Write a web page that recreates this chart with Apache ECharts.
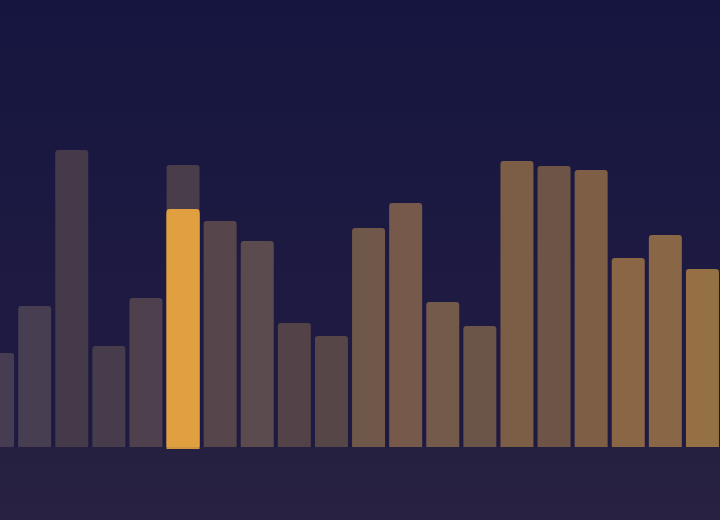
<!DOCTYPE html>
<html>
<head>
<meta charset="utf-8">
<script src="https://cdn.jsdelivr.net/npm/echarts@6/dist/echarts.min.js"></script>
<style>html,body{margin:0;padding:0;background:#151640;overflow:hidden;}#c{width:742px;height:520px;margin-left:-21px;}</style>
</head>
<body>
<div id="c"></div>
<script>
var categories = ['1','2','3','4','5','6','7','8','9','10','11','12','13','14','15','16','17','18','19','20'];
var values = [23.5, 35.25, 74.25, 25.25, 37.25, 59.5, 56.5, 51.5, 31, 27.75, 54.75, 61, 36.25, 30.25, 71.5, 70.25, 69.25, 47.25, 53, 44.5];
var ghostValues = [null, null, null, null, null, 70.5, null, null, null, null, null, null, null, null, null, null, null, null, null, null];
var highlightIndex = 5;
var barColors = ['#463d52','#483e52','#443a4a','#463c4c','#4e414d','#e0a040','#56464c','#5c4b4e','#534349','#574648','#6f5749','#76594a','#735a4a','#6b5448','#7c5e47','#6e5446','#7e5e45','#8a6645','#886646','#957045'];

var chart = echarts.init(document.getElementById('c'));
chart.setOption({
  animation: false,
  backgroundColor: {
    type: 'linear', x: 0, y: 0, x2: 0, y2: 1,
    colorStops: [
      {offset: 0, color: '#151640'},
      {offset: 0.55, color: '#1e1a42'},
      {offset: 0.859, color: '#1f1a42'},
      {offset: 0.86, color: '#262040'},
      {offset: 1, color: '#282141'}
    ]
  },
  grid: {left: 0, right: 0, top: 47, bottom: 73},
  xAxis: {
    type: 'category', data: categories,
    axisLine: {show: false}, axisTick: {show: false}, axisLabel: {show: false}
  },
  yAxis: {
    type: 'value', min: 0, max: 100,
    splitLine: {show: false}, axisLine: {show: false}, axisLabel: {show: false}, axisTick: {show: false}
  },
  series: [
    {
      type: 'bar', data: ghostValues, barWidth: 33, barGap: '-100%', z: 1,
      itemStyle: {color: '#4a3d4a', borderRadius: [3, 3, 0, 0]}
    },
    {
      type: 'bar', barWidth: 33, z: 2,
      data: values.map(function (v, i) {
        var item = {value: v, itemStyle: {color: barColors[i]}};
        if (i === highlightIndex) {
          item.itemStyle.shadowColor = 'rgba(224,160,64,0.9)';
          item.itemStyle.shadowOffsetY = 2;
        }
        return item;
      }),
      itemStyle: {borderRadius: [3, 3, 0, 0]}
    }
  ]
});
</script>
</body>
</html>
